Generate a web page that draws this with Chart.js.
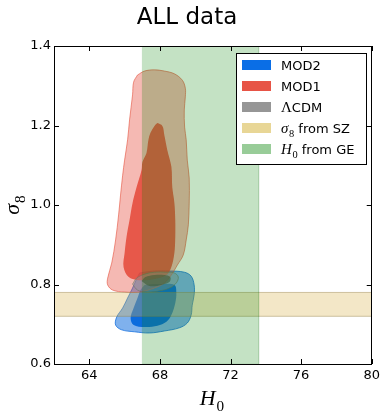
<!DOCTYPE html>
<html>
<head>
<meta charset="utf-8">
<script src="https://cdn.jsdelivr.net/npm/chart.js@4.4.0/dist/chart.umd.min.js"></script>
<style>
  body { margin: 0; background: #fff; }
</style>
</head>
<body>
<canvas id="contourChart" width="384" height="413"></canvas>
<script>
// axis limits and ticks
const h0Range = [62, 80];
const s8Range = [0.6, 1.4];
const h0Ticks = [64, 68, 72, 76, 80];
const s8Ticks = [0.6, 0.8, 1.0, 1.2, 1.4];

// priors shown as bands
const h0Band = [67.0, 73.6];   // H0 from GE
const s8Band = [0.72, 0.78];   // sigma8 from SZ

// contour outlines, each point is [H0, sigma8]
const mod1Outer = [
    [66.73, 1.327], [67.13, 1.337], [67.69, 1.340], [68.25, 1.337], [68.82, 1.330],
    [69.27, 1.314], [69.44, 1.294], [69.44, 1.272], [69.38, 1.239], [69.40, 1.196],
    [69.49, 1.164], [69.55, 1.113], [69.66, 1.068], [69.66, 1.005], [69.61, 0.950],
    [69.49, 0.912], [69.32, 0.874], [68.99, 0.849], [68.65, 0.824], [68.25, 0.804],
    [67.69, 0.791], [66.85, 0.781], [66.00, 0.781], [65.32, 0.786], [65.04, 0.799],
    [65.04, 0.816], [65.27, 0.854], [65.49, 0.912], [65.66, 0.975], [65.77, 1.025],
    [65.89, 1.075], [66.00, 1.113], [66.17, 1.164], [66.28, 1.214], [66.45, 1.277],
    [66.51, 1.309]
];
const mod1Inner = [
    [67.86, 1.206], [68.14, 1.199], [68.25, 1.176], [68.42, 1.138], [68.65, 1.096],
    [68.70, 1.045], [68.82, 1.005], [68.87, 0.962], [68.87, 0.920], [68.82, 0.879],
    [68.65, 0.844], [68.37, 0.824], [67.69, 0.814], [66.85, 0.811], [66.23, 0.819],
    [65.94, 0.844], [66.00, 0.879], [66.11, 0.920], [66.28, 0.962], [66.45, 1.005],
    [66.68, 1.045], [66.96, 1.088], [67.01, 1.108], [67.24, 1.131], [67.35, 1.164],
    [67.46, 1.181], [67.69, 1.199]
];
const mod2Outer = [
    [66.85, 0.829], [67.69, 0.834], [68.54, 0.834], [69.38, 0.831], [69.77, 0.821],
    [69.94, 0.799], [69.94, 0.774], [69.83, 0.748], [69.77, 0.723], [69.55, 0.703],
    [69.10, 0.691], [68.25, 0.683], [67.41, 0.678], [66.56, 0.681], [65.83, 0.686],
    [65.49, 0.698], [65.55, 0.718], [65.89, 0.741], [66.17, 0.766], [66.45, 0.791],
    [66.68, 0.814]
];
const mod2Inner = [
    [67.13, 0.799], [67.97, 0.801], [68.82, 0.799], [68.93, 0.779], [68.87, 0.753],
    [68.65, 0.723], [68.37, 0.706], [67.86, 0.696], [67.13, 0.693], [66.51, 0.698],
    [66.34, 0.716], [66.51, 0.741], [66.73, 0.766], [66.90, 0.786]
];
const lcdmOuter = [
    [66.45, 0.801], [66.68, 0.816], [67.13, 0.826], [67.69, 0.831], [68.37, 0.831],
    [68.82, 0.829], [69.04, 0.819], [68.93, 0.804], [68.54, 0.791], [67.97, 0.784],
    [67.30, 0.781], [66.73, 0.786]
];
const lcdmInner = [
    [66.96, 0.809], [67.18, 0.819], [67.69, 0.824], [68.25, 0.824], [68.59, 0.819],
    [68.54, 0.806], [68.08, 0.799], [67.41, 0.796]
];

// legend entries: text pieces, 'm' = math italic, 'b' = subscript, 'r' = math roman
const legendItems = [
    [['MOD2', '']],
    [['MOD1', '']],
    [['Λ', 'r'], ['CDM', '']],
    [['σ', 'm'], ['8', 'b'], [' from SZ', '']],
    [['H', 'm'], ['0', 'b'], [' from GE', '']]
];
const legendSwatches = ['#0a6ee6', '#e75446', '#969696', '#e8d696', '#98cc98'];

const poly = pts => [...pts, pts[0]].map(([x, y]) => ({ x, y }));

function contour(pts, fillCol, lineCol, order, tension = 0.35) {
    return {
        data: poly(pts),
        backgroundColor: fillCol,
        borderColor: lineCol || 'rgba(0,0,0,0)',
        borderWidth: lineCol ? 1 : 0,
        fill: 'shape',
        tension: tension,
        pointRadius: 0,
        order: order
    };
}

const greenRect = [[h0Band[0], s8Range[0]], [h0Band[0], s8Range[1]], [h0Band[1], s8Range[1]], [h0Band[1], s8Range[0]]];
const sandRect = [[h0Range[0], s8Band[0]], [h0Range[0], s8Band[1]], [h0Range[1], s8Band[1]], [h0Range[1], s8Band[0]]];

// draws a run of mixed text pieces, returns the end x
function drawPieces(ctx, pieces, x, y, size, measureOnly) {
    pieces.forEach(([t, s]) => {
        let dy = 0;
        if (s === 'm') ctx.font = `italic ${size * 1.15}px "Liberation Serif"`;
        else if (s === 'r') ctx.font = `${size * 1.15}px "Liberation Serif"`;
        else if (s === 'b') { ctx.font = `${size * 0.8}px "Liberation Serif"`; dy = size * 0.3; }
        else ctx.font = `${size}px "DejaVu Sans"`;
        if (!measureOnly) ctx.fillText(t, x, y + dy);
        x += ctx.measureText(t).width + (s === 'm' ? size * 0.05 : 0);
    });
    return x;
}

const decorations = {
    id: 'decorations',
    afterDraw(chart) {
        const ctx = chart.ctx;
        const a = chart.chartArea;
        const xs = chart.scales.x, ys = chart.scales.y;
        ctx.save();
        ctx.strokeStyle = '#000';
        ctx.lineWidth = 1;
        // frame
        ctx.strokeRect(Math.round(a.left) + 0.5, Math.round(a.top) + 0.5, Math.round(a.right - a.left) - 1, Math.round(a.bottom - a.top));
        // inward ticks
        ctx.beginPath();
        h0Ticks.forEach(v => {
            const px = Math.round(xs.getPixelForValue(v)) + 0.5;
            ctx.moveTo(px, a.bottom); ctx.lineTo(px, a.bottom - 5);
            ctx.moveTo(px, a.top); ctx.lineTo(px, a.top + 5);
        });
        s8Ticks.forEach(v => {
            const py = Math.round(ys.getPixelForValue(v)) + 0.5;
            ctx.moveTo(a.left, py); ctx.lineTo(a.left + 5, py);
            ctx.moveTo(a.right, py); ctx.lineTo(a.right - 5, py);
        });
        ctx.stroke();

        ctx.fillStyle = '#000';
        ctx.textBaseline = 'alphabetic';
        // x axis title
        const xTitle = [['H', 'm'], ['0', 'b']];
        const xw = drawPieces(ctx, xTitle, 0, 0, 19, true);
        drawPieces(ctx, xTitle, (a.left + a.right) / 2 - xw / 2 - 1, 405, 19);
        // y axis title
        const yTitle = [['σ', 'm'], ['8', 'b']];
        const yw = drawPieces(ctx, yTitle, 0, 0, 19, true);
        ctx.save();
        ctx.translate(19, (a.top + a.bottom) / 2);
        ctx.rotate(-Math.PI / 2);
        drawPieces(ctx, yTitle, -yw / 2, 0, 19);
        ctx.restore();

        // legend
        const bx = 236, by = 53, bw = 130, bh = 111;
        ctx.fillStyle = '#fff';
        ctx.fillRect(bx, by, bw, bh);
        ctx.strokeStyle = '#000';
        ctx.strokeRect(bx + 0.5, by + 0.5, bw, bh);
        legendItems.forEach((pieces, i) => {
            const cy = 65 + i * 21;
            ctx.fillStyle = legendSwatches[i];
            ctx.fillRect(242, cy - 5, 29, 10);
            ctx.fillStyle = '#000';
            drawPieces(ctx, pieces, 281, cy + 5, 13);
        });
        ctx.restore();
    }
};

new Chart(document.getElementById('contourChart'), {
    type: 'line',
    data: {
        datasets: [
            contour(greenRect, 'rgba(0,128,0,0.23)', 'rgba(0,110,0,0.1)', 1, 0),
            contour(sandRect, 'rgba(218,180,80,0.32)', 'rgba(150,130,70,0.45)', 2, 0),
            contour(lcdmInner, 'rgba(80,80,70,0.6)', null, 3),
            contour(lcdmOuter, 'rgba(150,150,150,0.45)', 'rgba(110,120,100,0.6)', 4),
            contour(mod1Inner, 'rgba(228,70,55,0.85)', null, 5),
            contour(mod1Outer, 'rgba(228,70,55,0.38)', 'rgba(228,80,60,0.6)', 6),
            contour(mod2Inner, 'rgba(0,100,220,0.9)', null, 7),
            contour(mod2Outer, 'rgba(0,100,220,0.5)', 'rgba(0,100,220,0.7)', 8)
        ]
    },
    options: {
        responsive: false,
        animation: false,
        layout: { padding: { left: 0, right: 10, top: 0, bottom: 0 } },
        plugins: {
            legend: { display: false },
            tooltip: { enabled: false },
            title: {
                display: true,
                text: 'ALL data',
                color: '#000',
                font: { family: 'DejaVu Sans', size: 23, weight: 'normal' },
                padding: { top: 4, bottom: 14.4 }
            }
        },
        scales: {
            x: {
                type: 'linear',
                min: h0Range[0],
                max: h0Range[1],
                afterBuildTicks: s => { s.ticks = h0Ticks.map(value => ({ value })); },
                afterFit: s => { s.height = 49; },
                grid: { display: false, drawTicks: false },
                border: { display: false },
                ticks: {
                    color: '#000',
                    font: { family: 'DejaVu Sans', size: 13 },
                    padding: 4,
                    maxRotation: 0,
                    autoSkip: false
                }
            },
            y: {
                type: 'linear',
                min: s8Range[0],
                max: s8Range[1],
                afterBuildTicks: s => { s.ticks = s8Ticks.map(value => ({ value })); },
                afterFit: s => { s.width = 54; },
                grid: { display: false, drawTicks: false },
                border: { display: false },
                ticks: {
                    color: '#000',
                    font: { family: 'DejaVu Sans', size: 13 },
                    padding: 3,
                    autoSkip: false,
                    callback: v => v.toFixed(1)
                }
            }
        }
    },
    plugins: [decorations]
});
</script>
</body>
</html>
